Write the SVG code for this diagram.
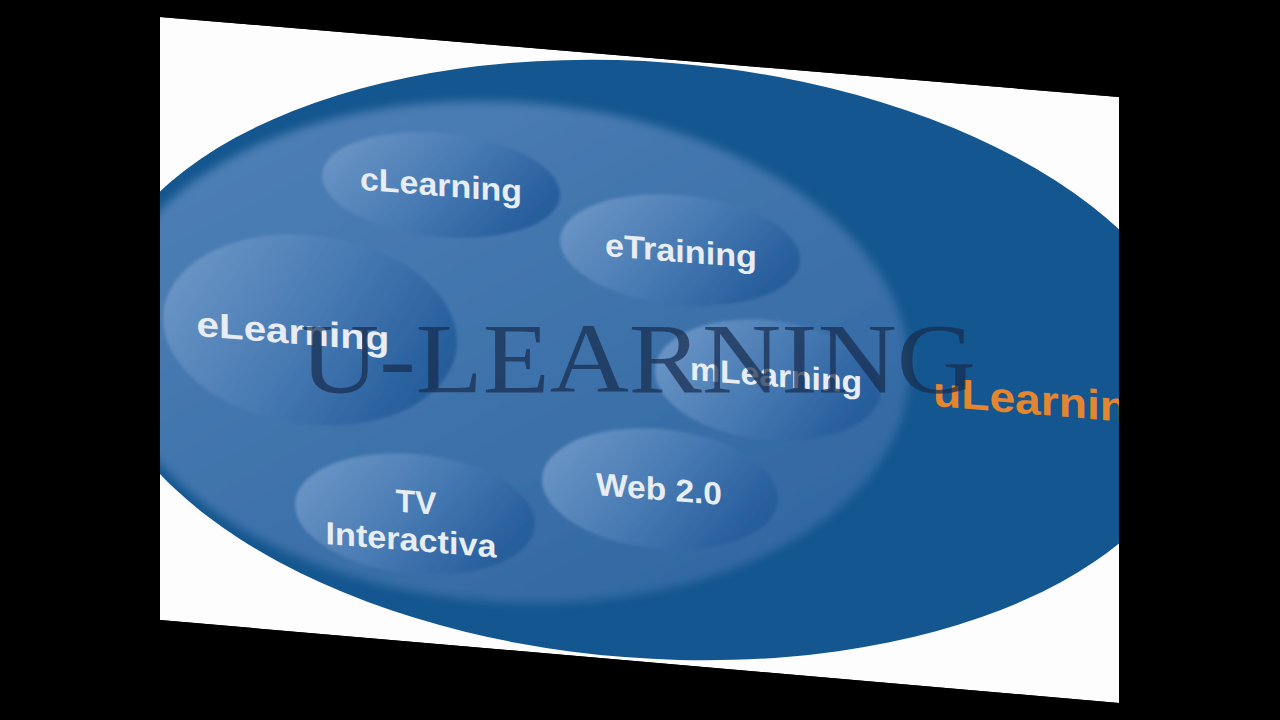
<svg xmlns="http://www.w3.org/2000/svg" width="1280" height="720" viewBox="0 0 1280 720">
  <style>
    .lbl { font-family: "Liberation Sans", Arial, sans-serif; font-weight: bold; font-size: 32px; fill: #e8edf3; text-anchor: middle; }
    .node { fill: url(#nodeGrad); filter: url(#soft); }
  </style>
  <defs>
    <clipPath id="page">
      <polygon points="160,17 1119,97 1119,703 160,620"/>
    </clipPath>
    <linearGradient id="nodeGrad" x1="0" y1="0.3" x2="1" y2="0.7">
      <stop offset="0" stop-color="#6b95c6"/>
      <stop offset="0.45" stop-color="#4a7cb4"/>
      <stop offset="0.85" stop-color="#2b62a0"/>
      <stop offset="1" stop-color="#225a97"/>
    </linearGradient>
    <linearGradient id="innerGrad" x1="0" y1="0" x2="1" y2="1">
      <stop offset="0" stop-color="#5283b9"/>
      <stop offset="0.5" stop-color="#3f73ab"/>
      <stop offset="1" stop-color="#2c64a0"/>
    </linearGradient>
    <filter id="soft" x="-10%" y="-10%" width="120%" height="120%">
      <feGaussianBlur stdDeviation="1.5"/>
    </filter>
    <filter id="softer" x="-10%" y="-10%" width="120%" height="120%">
      <feGaussianBlur stdDeviation="5"/>
    </filter>
  </defs>

  <rect x="0" y="0" width="1280" height="720" fill="#000000"/>

  <g clip-path="url(#page)">
    <polygon points="160,17 1119,97 1119,703 160,620" fill="#fdfdfd"/>

    <g id="outer">
      <ellipse cx="648" cy="360" rx="555" ry="298" transform="rotate(4.5 648 360)" fill="#14568f"/>
    </g>
    <g id="inner">
      <ellipse cx="507" cy="352" rx="403" ry="250" transform="rotate(4 507 352)" fill="url(#innerGrad)" filter="url(#softer)"/>
    </g>

    <g id="node-clearning" transform="translate(441 185) skewY(4.5)">
      <ellipse class="node" cx="0" cy="0" rx="119" ry="52"/>
      <text class="lbl" x="0" y="11" textLength="162" lengthAdjust="spacingAndGlyphs">cLearning</text>
    </g>

    <g id="node-etraining" transform="translate(680 250) skewY(4.5)">
      <ellipse class="node" cx="0" cy="0" rx="120" ry="55"/>
      <text class="lbl" x="1" y="12" textLength="152" lengthAdjust="spacingAndGlyphs">eTraining</text>
    </g>

    <g id="node-elearning" transform="translate(310 330) skewY(4.5)">
      <ellipse class="node" cx="0" cy="0" rx="147" ry="95"/>
      <text class="lbl" x="-17" y="15" style="font-size:35px" textLength="193" lengthAdjust="spacingAndGlyphs">eLearning</text>
    </g>

    <g id="node-mlearning" transform="translate(768 380) skewY(4.5)">
      <ellipse class="node" cx="0" cy="0" rx="113" ry="60"/>
      <text class="lbl" x="8" y="6" textLength="172" lengthAdjust="spacingAndGlyphs">mLearning</text>
    </g>

    <g id="node-web20" transform="translate(660 489) skewY(4.5)">
      <ellipse class="node" cx="0" cy="0" rx="118" ry="60"/>
      <text class="lbl" x="-1" y="11" textLength="126" lengthAdjust="spacingAndGlyphs">Web 2.0</text>
    </g>

    <g id="node-tv" transform="translate(415 514) skewY(4.5)">
      <ellipse class="node" cx="0" cy="0" rx="120" ry="60"/>
      <text class="lbl" x="1" y="-1" textLength="41" lengthAdjust="spacingAndGlyphs">TV</text>
      <text class="lbl" x="-4" y="37" textLength="171" lengthAdjust="spacingAndGlyphs">Interactiva</text>
    </g>

    <g id="node-ulearning" transform="translate(933 406) skewY(4.7) scale(1.1 1)">
      <text x="0" y="0" font-family="Liberation Sans, Arial, sans-serif" font-weight="bold" font-size="42" fill="#e3862f">uLearning</text>
    </g>
  </g>

  <g id="title">
    <text x="300" y="392" font-family="Liberation Serif, Times New Roman, serif" font-size="100" fill="#172c4d" fill-opacity="0.72" textLength="676" lengthAdjust="spacingAndGlyphs">U-LEARNING</text>
  </g>
</svg>
